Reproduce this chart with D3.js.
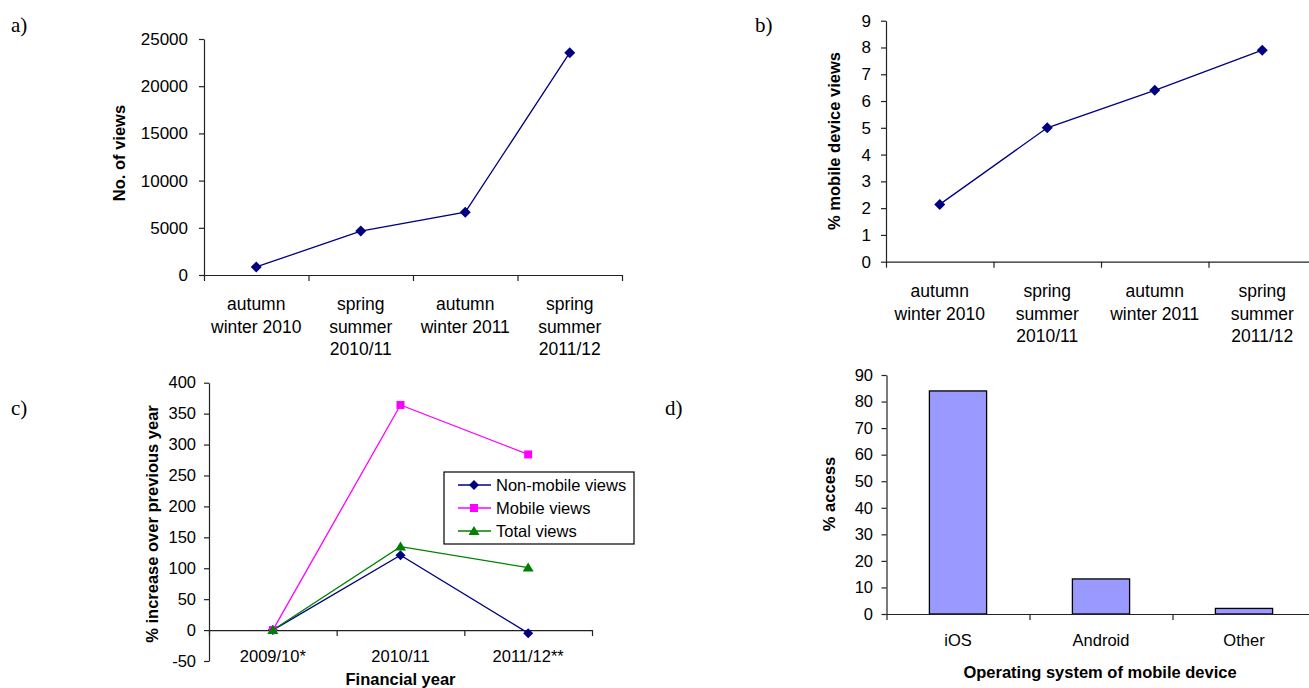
<!DOCTYPE html>
<html>
<head>
<meta charset="utf-8">
<script src="https://cdn.jsdelivr.net/npm/d3@7"></script>
<style>
  body { margin: 0; background: #fff; }
  svg text { font-family: Arial, "Liberation Sans", sans-serif; fill: #000; }
  .panel-label { font-family: "Times New Roman", "Liberation Serif", serif !important; font-size: 21px; }
  .axis-title { font-weight: bold; font-size: 16.5px; }
</style>
</head>
<body>
<svg id="chart" width="1309" height="688"></svg>
<script>
/* Data
============================================= */
const seasonLabels = [
    ["autumn", "winter 2010"],
    ["spring", "summer", "2010/11"],
    ["autumn", "winter 2011"],
    ["spring", "summer", "2011/12"]
];
const viewCounts = [850, 4650, 6650, 23550];
const mobileShare = [2.14, 5.0, 6.4, 7.9];

const yearLabels = ["2009/10*", "2010/11", "2011/12**"];
const nonMobileIncrease = [0, 121, -5];
const mobileIncrease = [0, 364, 284];
const totalIncrease = [0, 135, 101];
const seriesNames = ["Non-mobile views", "Mobile views", "Total views"];

const osNames = ["iOS", "Android", "Other"];
const osAccess = [84, 13.2, 2.1];

const ticksA = d3.range(0, 25001, 5000);
const ticksB = d3.range(0, 10, 1);
const ticksC = d3.range(-50, 401, 50);
const ticksD = d3.range(0, 91, 10);

/* Global Constants
============================================= */
const NAVY = "#000080";
const MAGENTA = "#FF00FF";
const GREEN = "#008000";
const AXIS_COLOR = "#222";

var svg = d3.select("#chart");

/* Functions
============================================= */

// sets up scales + axes for one excel-style panel
function drawFrame(g, nCats, yDomain, yTicks, box, fontSize, pad) {
    var x = d3.scaleBand().domain(d3.range(nCats)).range([box.x0, box.x1]);
    var y = d3.scaleLinear().domain(yDomain).range([box.y1, box.y0]);

    var yAxis = g.append("g")
        .attr("transform", `translate(${box.x0},0)`)
        .call(d3.axisLeft(y)
            .tickValues(yTicks)
            .tickFormat(function(d) { return String(d); })
            .tickSize(5).tickPadding(pad).tickSizeOuter(0));

    var xEdges = d3.scaleLinear().domain([0, nCats]).range([box.x0, box.x1]);
    var xAxis = g.append("g")
        .attr("transform", `translate(0,${y(0)})`)
        .call(d3.axisBottom(xEdges).tickValues(d3.range(nCats + 1)).tickFormat("").tickSize(6).tickSizeOuter(0));

    [yAxis, xAxis].forEach(function(ax) {
        ax.attr("font-family", null).attr("font-size", null).attr("color", AXIS_COLOR);
        ax.selectAll("path, line").attr("stroke-width", 1.2);
        ax.selectAll("text").style("font-size", fontSize + "px").attr("fill", "#000");
    });

    return { x: x, y: y };
}

function categoryLabels(g, x, labels, baseline, lineH, fontSize) {
    var t = g.append("g").selectAll("text")
        .data(labels)
        .enter()
        .append("text")
        .attr("text-anchor", "middle")
        .style("font-size", fontSize + "px");
    t.each(function(lines, i) {
        d3.select(this).selectAll("tspan")
            .data(Array.isArray(lines) ? lines : [lines])
            .enter()
            .append("tspan")
            .attr("x", x(i) + x.bandwidth() / 2)
            .attr("y", function(d, j) { return baseline + j * lineH; })
            .text(function(d) { return d; });
    });
}

function yTitle(g, text, cx, cy) {
    g.append("text")
        .attr("class", "axis-title")
        .attr("transform", `translate(${cx},${cy}) rotate(-90)`)
        .attr("text-anchor", "middle")
        .attr("dominant-baseline", "central")
        .text(text);
}

function marker(type, r) {
    if (type === "diamond") return `M0,${-r}L${r},0L0,${r}L${-r},0Z`;
    if (type === "square") return `M${-r},${-r}H${r}V${r}H${-r}Z`;
    return `M0,${-r}L${r * 1.1},${r * 0.8}L${-r * 1.1},${r * 0.8}Z`;
}

function drawSeries(g, sc, values, color, type, r) {
    var cx = function(d, i) { return sc.x(i) + sc.x.bandwidth() / 2; };
    g.append("path")
        .datum(values)
        .attr("fill", "none")
        .attr("stroke", color)
        .attr("stroke-width", 1.3)
        .attr("d", d3.line().x(cx).y(function(d) { return sc.y(d); }));
    g.append("g").selectAll("path")
        .data(values)
        .enter()
        .append("path")
        .attr("transform", function(d, i) { return `translate(${cx(d, i)},${sc.y(d)})`; })
        .attr("d", marker(type, r))
        .attr("fill", color);
}

function panelLabel(text, x, y) {
    svg.append("text").attr("class", "panel-label").attr("x", x).attr("y", y).text(text);
}

/* Panel a
============================================= */
var gA = svg.append("g");
var scA = drawFrame(gA, seasonLabels.length, [0, 25000], ticksA, { x0: 204, x1: 622, y0: 39, y1: 275 }, 17, 11);
categoryLabels(gA, scA.x, seasonLabels, 310, 22.5, 17.5);
yTitle(gA, "No. of views", 119, 153);
drawSeries(gA, scA, viewCounts, NAVY, "diamond", 5.5);
panelLabel("a)", 11, 32);

/* Panel b
============================================= */
var gB = svg.append("g");
var scB = drawFrame(gB, seasonLabels.length, [0, 9], ticksB, { x0: 886, x1: 1316, y0: 20.7, y1: 261.7 }, 17, 10);
categoryLabels(gB, scB.x, seasonLabels, 297, 22.5, 17.5);
yTitle(gB, "% mobile device views", 834, 141);
drawSeries(gB, scB, mobileShare, NAVY, "diamond", 5.5);
panelLabel("b)", 755, 32);

/* Panel c
============================================= */
var gC = svg.append("g");
var scC = drawFrame(gC, yearLabels.length, [-50, 400], ticksC, { x0: 209, x1: 592, y0: 382.7, y1: 661 }, 16.5, 8);
categoryLabels(gC, scC.x, yearLabels, 662, 0, 16.5);
yTitle(gC, "% increase over previous year", 152, 524);
gC.append("text").attr("class", "axis-title").attr("text-anchor", "middle")
    .attr("x", (209 + 592) / 2).attr("y", 685).text("Financial year");

var seriesC = [
    { name: seriesNames[0], values: nonMobileIncrease, color: NAVY, type: "diamond", r: 5 },
    { name: seriesNames[1], values: mobileIncrease, color: MAGENTA, type: "square", r: 4 },
    { name: seriesNames[2], values: totalIncrease, color: GREEN, type: "triangle", r: 5 }
];
seriesC.forEach(function(s) { drawSeries(gC, scC, s.values, s.color, s.type, s.r); });

// legend
var legend = gC.append("g").attr("transform", "translate(444,472)");
legend.append("rect").attr("width", 190).attr("height", 72)
    .attr("fill", "#fff").attr("stroke", "#000").attr("stroke-width", 1.2);
var items = legend.selectAll("g.item")
    .data(seriesC)
    .enter()
    .append("g")
    .attr("transform", function(d, i) { return `translate(0,${13 + i * 23})`; });
items.append("line").attr("x1", 14).attr("x2", 47)
    .attr("stroke", function(d) { return d.color; }).attr("stroke-width", 1.3);
items.append("path").attr("transform", "translate(30,0)")
    .attr("d", function(d) { return marker(d.type, d.r); })
    .attr("fill", function(d) { return d.color; });
items.append("text").attr("x", 52).attr("dominant-baseline", "central")
    .style("font-size", "16.5px").text(function(d) { return d.name; });
panelLabel("c)", 11, 415);

/* Panel d
============================================= */
var gD = svg.append("g");
var scD = drawFrame(gD, osNames.length, [0, 90], ticksD, { x0: 886.5, x1: 1315.5, y0: 375, y1: 614 }, 16.5, 8.5);
var barW = scD.x.bandwidth() * 0.4;
gD.insert("g", ":first-child").selectAll("rect")
    .data(osAccess)
    .enter()
    .append("rect")
    .attr("x", function(d, i) { return scD.x(i) + (scD.x.bandwidth() - barW) / 2; })
    .attr("y", function(d) { return scD.y(d); })
    .attr("width", barW)
    .attr("height", function(d) { return scD.y(0) - scD.y(d); })
    .attr("fill", "#9999FF")
    .attr("stroke", "#000")
    .attr("stroke-width", 1.3);
categoryLabels(gD, scD.x, osNames, 646, 0, 16.5);
yTitle(gD, "% access", 829, 494);
gD.append("text").attr("class", "axis-title").attr("text-anchor", "middle")
    .attr("x", 1100).attr("y", 678).text("Operating system of mobile device");
panelLabel("d)", 665, 415);
</script>
</body>
</html>
